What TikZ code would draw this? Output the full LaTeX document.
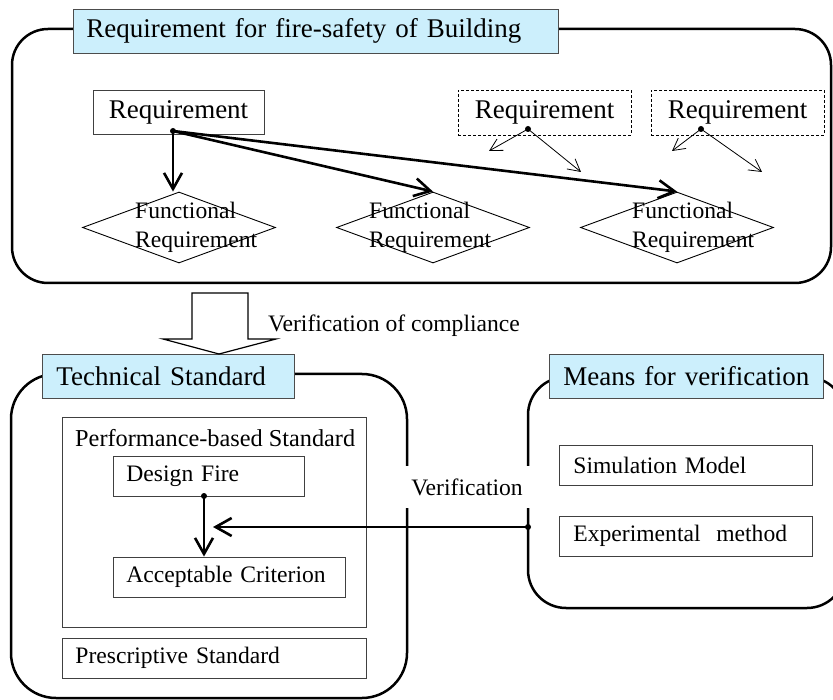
\documentclass[tikz,border=0pt]{standalone}
\usepackage{fontspec}
\setmainfont{Liberation Serif}
\usetikzlibrary{arrows.meta,shapes.geometric}
\begin{document}
\begin{tikzpicture}[x=1pt,y=-1pt,
  bigtxt/.style={font=\fontsize{27}{30}\selectfont},
  smtxt/.style={font=\fontsize{23.6}{29}\selectfont},
  container/.style={draw=black, line width=2.5pt, minimum width=#1},
  titlebox/.style={draw=black!70, line width=0.9pt, fill=cyan!20, bigtxt, anchor=west, minimum height=44pt, inner xsep=13pt, align=left},
  thinbox/.style={draw=black!75, line width=0.9pt},
  itembox/.style={thinbox, smtxt, anchor=west, minimum height=40pt, inner xsep=13pt, align=left},
  dashbox/.style={draw=black, line width=0.8pt, dash pattern=on 3pt off 2pt, bigtxt, minimum width=173pt, minimum height=45pt},
  fdiam/.style={draw=black, line width=0.9pt, diamond, inner sep=0pt, minimum width=193pt, minimum height=71pt},
  fdtxt/.style={smtxt, anchor=west, align=left, inner sep=0pt},
  thickarrow/.style={line width=2.6pt, -{Straight Barb[length=16pt,width=18pt]}},
  thinarrow/.style={line width=0.8pt, -{Straight Barb[length=12pt,width=13pt]}},
  dotfill/.style={fill=black}
]
\useasboundingbox (0,0) rectangle (833,700);

% containers
\node (topbox) [container=819pt, rounded corners=36pt, minimum height=254pt] at (421.5,156) {};
\node (techbox) [container=396pt, rounded corners=45pt, minimum height=324pt] at (209,536) {};
\node (meansbox) [container=317pt, rounded corners=38pt, minimum height=231pt] at (686.5,492.5) {};

% titles
\node (toptitle) [titlebox, text width=459pt] at (73,31) {Requirement for fire-safety of Building};
\node (techtitle) [titlebox, inner xsep=14pt, text width=224pt] at (42,376) {Technical Standard};
\node (meanstitle) [titlebox, inner xsep=14pt, text width=246pt] at (549,376) {Means for verification};

% top section
\node (req1) [thinbox, bigtxt, minimum width=171pt, minimum height=44pt] at (178.5,112) {Requirement};
\node (req2) [dashbox] at (544.5,112.5) {Requirement};
\node (req3) [dashbox] at (737.5,112.5) {Requirement};

\node (d1) [fdiam] at (179,227.5) {};
\node (d2) [fdiam] at (433,227.5) {};
\node (d3) [fdiam] at (677,227.5) {};
\node (d1t) [fdtxt] at (135,227.5) {Functional\\Requirement};
\node (d2t) [fdtxt] at (369,227.5) {Functional\\Requirement};
\node (d3t) [fdtxt] at (632,227.5) {Functional\\Requirement};

\coordinate (r1d) at (173,131);
\coordinate (r2d) at (528,129);
\coordinate (r3d) at (701,129);
\coordinate (r2a) at (489,151);
\coordinate (r2b) at (581,172);
\coordinate (r3a) at (672,151);
\coordinate (r3b) at (762,172);

\draw[thickarrow] (r1d) -- (r1d |- d1.north);
\draw[thickarrow] (r1d) -- (d2.north);
\draw[thickarrow] (r1d) -- (d3.north);
\draw[thinarrow] (r2d) -- (r2a);
\draw[thinarrow] (r2d) -- (r2b);
\draw[thinarrow] (r3d) -- (r3a);
\draw[thinarrow] (r3d) -- (r3b);
\fill[dotfill] (r1d) circle (3pt);
\fill[dotfill] (r2d) circle (3pt);
\fill[dotfill] (r3d) circle (3pt);

% hollow arrow
\draw[line width=1.2pt, fill=white] (192,293) -- (248,293) -- (248,339) -- (276,339) -- (219,354) -- (163,339) -- (192,339) -- cycle;
\node (vcomp) [smtxt, anchor=west, inner sep=0pt] at (268,326) {Verification of compliance};

% technical standard content
\node (perf) [thinbox, minimum width=304pt, minimum height=210pt] at (214,522) {};
\node (perft) [font=\fontsize{24.3}{29}\selectfont, anchor=west, inner sep=0pt] at (75,438) {Performance-based Standard};
\node (df) [itembox, text width=165pt] at (113,476) {Design Fire};
\node (ac) [itembox, text width=206pt] at (113,577) {Acceptable Criterion};
\node (ps) [itembox, text width=278pt] at (62,658) {Prescriptive Standard};

\coordinate (dfd) at (204,496);
\draw[thickarrow] (dfd) -- (dfd |- ac.north);
\fill[dotfill] (dfd) circle (3pt);

% means content
\node (sim) [itembox, inner xsep=14pt, text width=225pt] at (559,465) {Simulation Model};
\node (exp) [itembox, inner xsep=14pt, text width=225pt] at (559,536) {Experimental\ \ method};

% verification
\node (verlab) [smtxt, fill=white, minimum width=126pt, minimum height=42pt] at (467,487) {Verification};
\coordinate (vd) at (528,527);
\coordinate (vt) at (213,527);
\draw[thickarrow] (vd) -- (vt);
\fill[dotfill] (vd) circle (3pt);
\end{tikzpicture}
\end{document}
